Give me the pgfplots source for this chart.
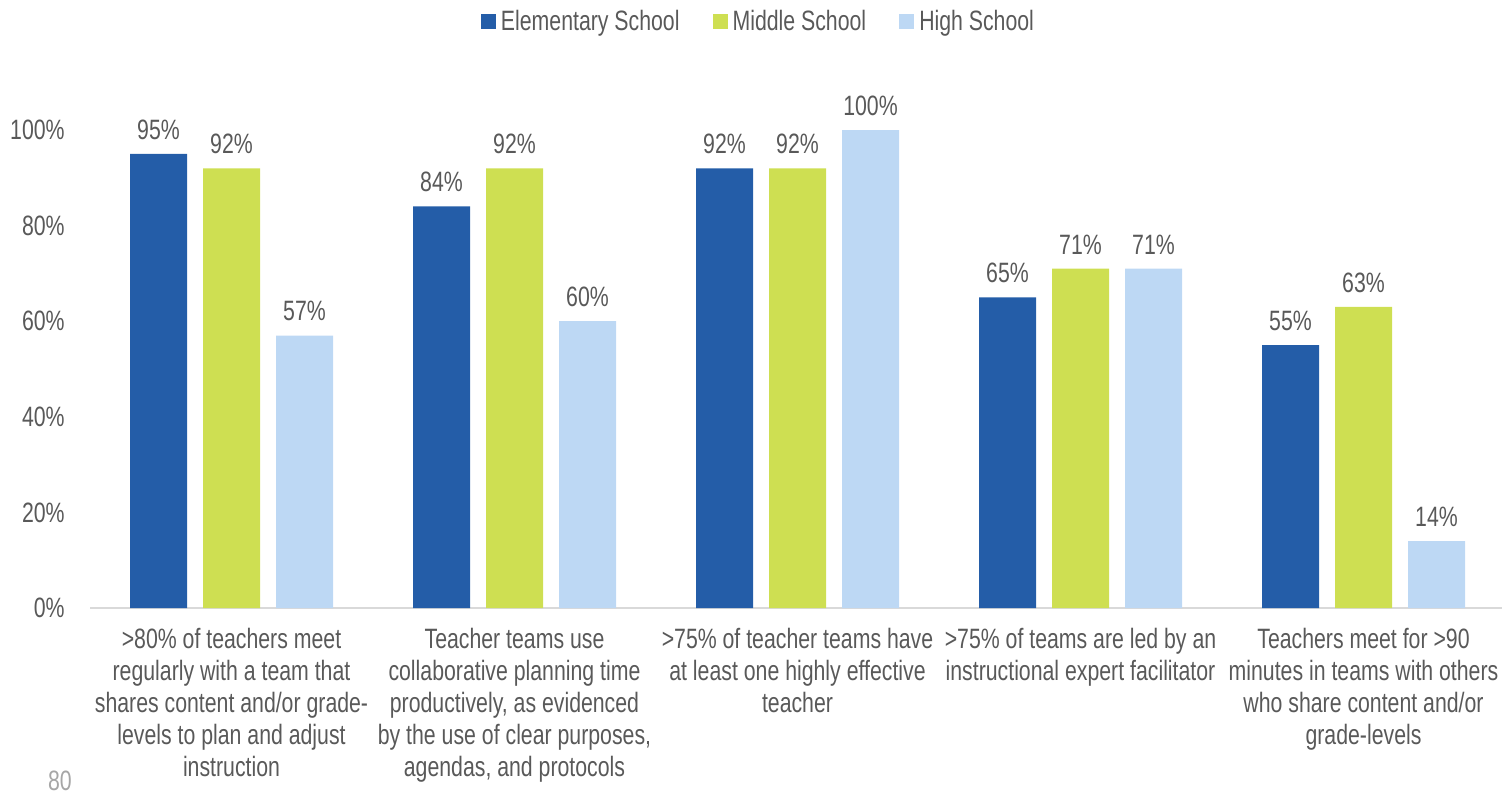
\documentclass[border=0pt]{standalone}
\usepackage{fontspec}
\setmainfont{Liberation Sans}[FakeStretch=0.76]
\usepackage{pgfplots}
\pgfplotsset{compat=1.18}
\definecolor{esblue}{HTML}{245DA8}
\definecolor{msgreen}{HTML}{CEDF52}
\definecolor{hsblue}{HTML}{BDD8F4}
\definecolor{txt}{HTML}{595959}
\definecolor{axisgray}{HTML}{D9D9D9}
\begin{document}
\fontsize{14}{16}\selectfont
\begin{tikzpicture}
\path[use as bounding box] (0,0) rectangle (751pt,-397pt);
\begin{axis}[
  at={(45pt,-304pt)}, anchor=south west,
  scale only axis, width=707.5pt, height=239pt,
  xmin=-0.5, xmax=4.5, ymin=0, ymax=100,
  clip=false,
  /pgf/number format/assume math mode=true,
  axis y line=left, y axis line style={draw=none},
  axis x line*=bottom, x axis line style={draw=axisgray, line width=0.75pt, -},
  major tick length=0pt,
  ytick={0,20,40,60,80,100},
  yticklabels={0\%,20\%,40\%,60\%,80\%,100\%},
  yticklabel style={text=txt, anchor=east, inner sep=0pt, xshift=-12.5pt},
  xtick={0,1,2,3,4},
  xticklabels={
    {>80\% of teachers meet\\regularly with a team that\\shares content and/or grade-\\levels to plan and adjust\\instruction},
    {Teacher teams use\\collaborative planning time\\productively, as evidenced\\by the use of clear purposes,\\agendas, and protocols},
    {>75\% of teacher teams have\\at least one highly effective\\teacher},
    {>75\% of teams are led by an\\instructional expert facilitator},
    {Teachers meet for >90\\minutes in teams with others\\who share content and/or\\grade-levels}},
  xticklabel style={text=txt, align=center, anchor=north, inner sep=0pt, yshift=-10pt},
  ybar, bar width=28.5pt,
  nodes near coords={\pgfmathprintnumber{\pgfplotspointmeta}\%},
  every node near coord/.append style={text=txt, anchor=south, inner sep=0pt, yshift=7pt},
  legend columns=3,
  legend image code/.code={\fill[#1] (0pt,-3.75pt) rectangle (7.5pt,3.75pt);},
  legend style={at={(0.4735,1.226)}, anchor=center, draw=none, fill=none,
    text=txt, /tikz/every even column/.append style={column sep=14pt},
    nodes={inner sep=2.5pt}},
]
\addplot[fill=esblue, draw=none, bar shift=-36.5pt] coordinates {(0,95) (1,84) (2,92) (3,65) (4,55)};
\addplot[fill=msgreen, draw=none, bar shift=0pt] coordinates {(0,92) (1,92) (2,92) (3,71) (4,63)};
\addplot[fill=hsblue, draw=none, bar shift=36.5pt] coordinates {(0,57) (1,60) (2,100) (3,71) (4,14)};
\legend{Elementary School, Middle School, High School}
\end{axis}
\node[text=black!35] at (30pt,-390.5pt) {80};
\end{tikzpicture}
\end{document}
